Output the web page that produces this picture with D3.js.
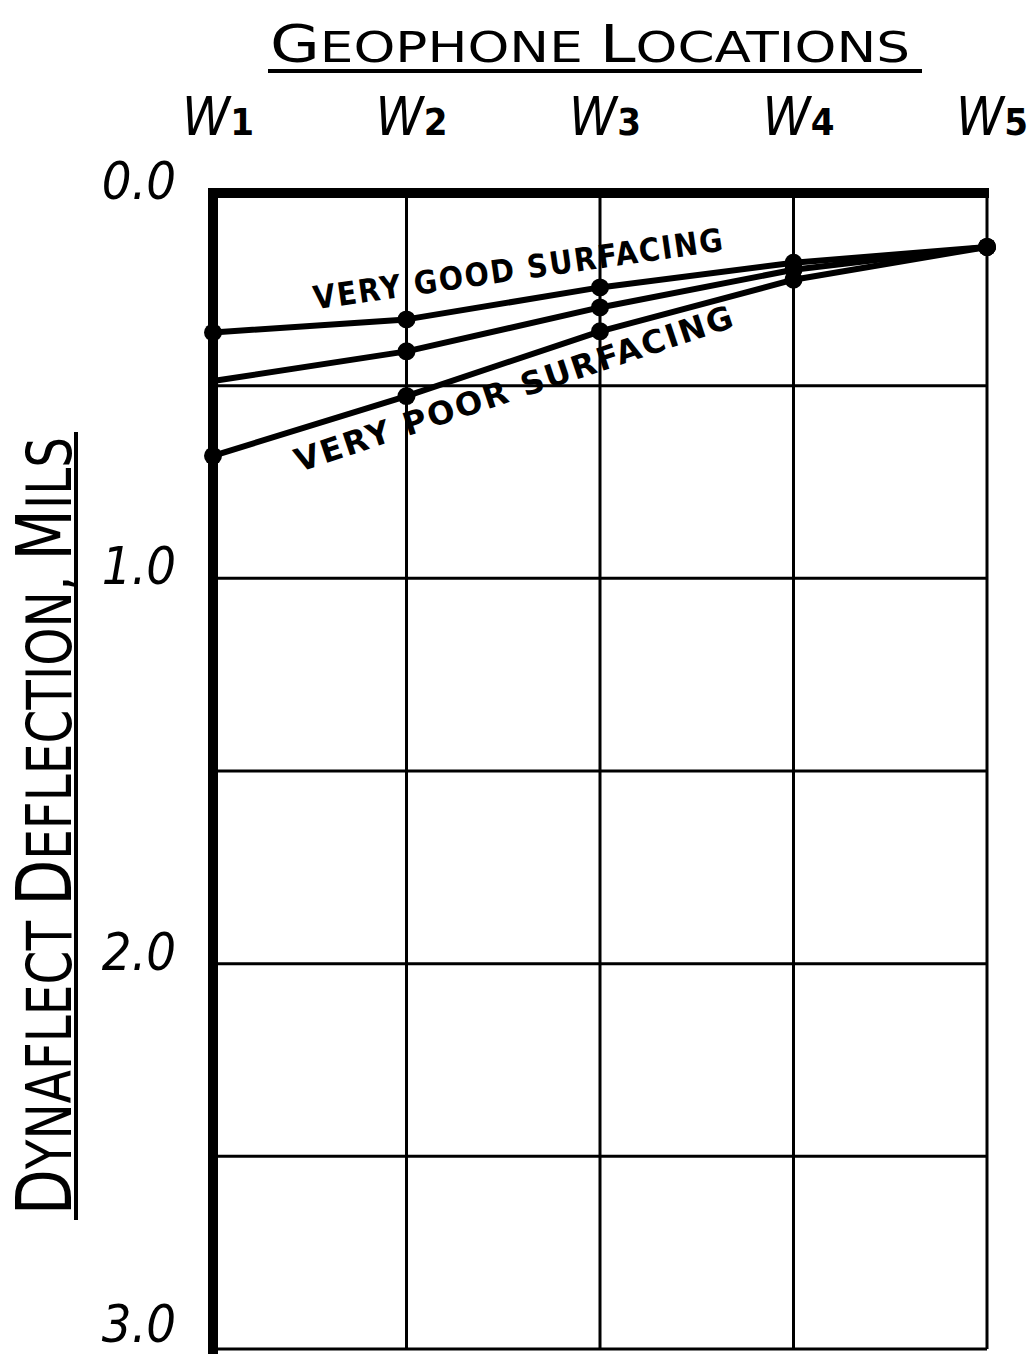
<!DOCTYPE html>
<html>
<head>
<meta charset="utf-8">
<script src="https://cdn.jsdelivr.net/npm/d3@7"></script>
<style>
  body { margin: 0; background: #fff; }
  svg { display: block; }
</style>
</head>
<body>
<div id="chart"></div>
<script>
// geophone positions and deflections (mils)
const locations = ["W1", "W2", "W3", "W4", "W5"];
const yTicks = [0, 1, 2, 3];
const yGrid = [0, 0.5, 1, 1.5, 2, 2.5, 3];
const veryGood = [0.362, 0.328, 0.245, 0.181, 0.140];
const middle = [0.488, 0.411, 0.297, 0.199, 0.140];
const veryPoor = [0.682, 0.527, 0.359, 0.225, 0.140];
// which points carry a dot
const goodDots = [true, true, true, true, true];
const middleDots = [false, true, true, true, true];
const poorDots = [true, true, true, true, true];

const W = 1031, H = 1354;
const svg = d3.select("#chart").append("svg").attr("width", W).attr("height", H);

const x = d3.scalePoint().domain(locations).range([213, 987]);
const y = d3.scaleLinear().domain([0, 3]).range([193, 1349]);

const font = "'DejaVu Sans Condensed', 'DejaVu Sans', sans-serif";

// small caps drawn by hand: first letter of each word bigger
function smallCaps(sel, str, big, small) {
  str.split(" ").forEach((word, wi) => {
    if (wi > 0) sel.append("tspan").attr("font-size", small).text(" ");
    sel.append("tspan").attr("font-size", big).text(word[0].toUpperCase());
    sel.append("tspan").attr("font-size", small).text(word.slice(1).toUpperCase());
  });
}

// grid
const grid = svg.append("g").attr("stroke", "#000").attr("stroke-width", 3);
grid.selectAll("line.h").data(yGrid).enter().append("line")
  .attr("x1", x("W1")).attr("x2", x("W5"))
  .attr("y1", d => y(d)).attr("y2", d => y(d));
grid.selectAll("line.v").data(locations).enter().append("line")
  .attr("x1", d => x(d)).attr("x2", d => x(d))
  .attr("y1", y(0)).attr("y2", y(3));

// heavy top and left axis lines
svg.append("line").attr("x1", x("W1") - 5).attr("x2", x("W5") + 2)
  .attr("y1", y(0)).attr("y2", y(0)).attr("stroke", "#000").attr("stroke-width", 10);
svg.append("line").attr("x1", x("W1")).attr("x2", x("W1"))
  .attr("y1", y(0) - 5).attr("y2", H).attr("stroke", "#000").attr("stroke-width", 10);

// data lines
const line = d3.line().x((d, i) => x(locations[i])).y(d => y(d));
const series = [
  { values: veryGood, dots: goodDots },
  { values: middle, dots: middleDots },
  { values: veryPoor, dots: poorDots }
];
series.forEach(s => {
  svg.append("path").datum(s.values).attr("d", line)
    .attr("fill", "none").attr("stroke", "#000").attr("stroke-width", 6)
    .attr("stroke-linejoin", "round");
  svg.selectAll(null).data(s.values.map((v, i) => ({ v, i })).filter(d => s.dots[d.i]))
    .enter().append("circle")
    .attr("cx", d => x(locations[d.i])).attr("cy", d => y(d.v)).attr("r", 9).attr("fill", "#000");
});

// title
const title = svg.append("text").attr("x", 590).attr("y", 62).attr("text-anchor", "middle")
  .attr("font-family", font)
  .attr("textLength", 640).attr("lengthAdjust", "spacingAndGlyphs");
smallCaps(title, "Geophone Locations", 52, 43);
svg.append("line").attr("x1", 268).attr("x2", 922).attr("y1", 71).attr("y2", 71)
  .attr("stroke", "#000").attr("stroke-width", 4);

// x tick labels above the grid
const xl = svg.selectAll("text.xl").data(locations).enter().append("text")
  .attr("x", d => x(d) + 5).attr("y", 135).attr("text-anchor", "middle")
  .attr("font-family", font).attr("font-size", 54).attr("font-style", "italic");
xl.append("tspan").text("W");
xl.append("tspan").attr("font-size", 38).attr("font-style", "normal").attr("font-weight", "bold").text(d => d.slice(1));

// y tick labels
svg.selectAll("text.yl").data(yTicks).enter().append("text")
  .attr("x", 176).attr("y", d => Math.min(y(d) + 6, H - 12)).attr("text-anchor", "end")
  .attr("font-family", font).attr("font-size", 52).attr("font-style", "italic")
  .text(d => d3.format(".1f")(d));

// y title
const yt = svg.append("text").attr("transform", "translate(71,826) rotate(-90)")
  .attr("text-anchor", "middle").attr("font-family", font)
  .attr("textLength", 778).attr("lengthAdjust", "spacingAndGlyphs");
smallCaps(yt, "Dynaflect Deflection, Mils", 76, 62);
svg.append("line").attr("x1", 76).attr("x2", 76).attr("y1", 432).attr("y2", 1220)
  .attr("stroke", "#000").attr("stroke-width", 4);

// annotations
svg.append("text").attr("transform", `translate(${x("W1") + 102},${y(0.302)}) rotate(-8.2)`)
  .attr("font-family", "'DejaVu Sans', sans-serif").attr("font-weight", "bold")
  .attr("font-size", 32).attr("letter-spacing", 2)
  .attr("textLength", 415).attr("lengthAdjust", "spacingAndGlyphs")
  .text("VERY GOOD SURFACING");
svg.append("text").attr("transform", `translate(${x("W1") + 86},${y(0.725)}) rotate(-18.5)`)
  .attr("font-family", "'DejaVu Sans', sans-serif").attr("font-weight", "bold")
  .attr("font-size", 32).attr("letter-spacing", 2)
  .attr("textLength", 462).attr("lengthAdjust", "spacingAndGlyphs")
  .text("VERY POOR SURFACING");
</script>
</body>
</html>
